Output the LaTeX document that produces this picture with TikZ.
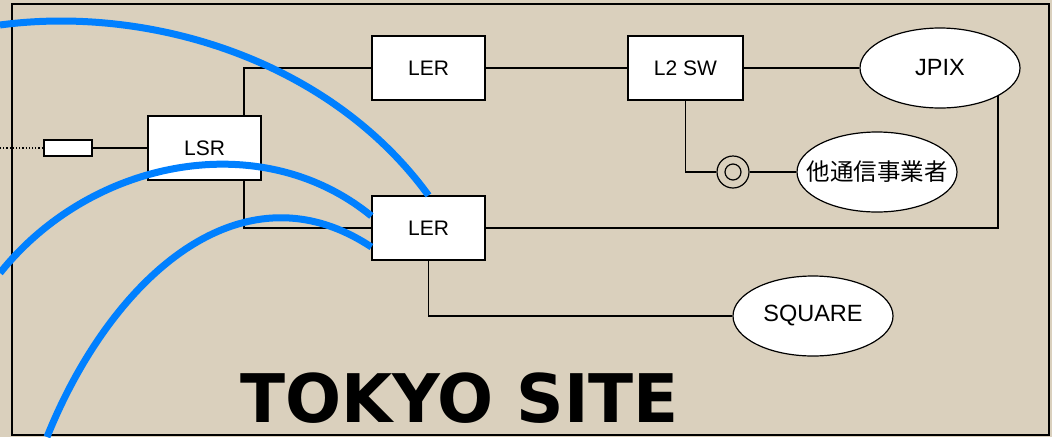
\documentclass[tikz,border=0pt]{standalone}
\usepackage{fontspec}
\setmainfont{Liberation Sans}
\newfontfamily\cjkfont{Noto Sans CJK JP}
\newfontfamily\titlefont{DejaVu Sans}
\usetikzlibrary{shapes.geometric}
\definecolor{bg}{RGB}{218,208,189}
\definecolor{fiberblue}{RGB}{0,128,255}
\begin{document}
\begin{tikzpicture}[x=1pt,y=-1pt,
  dev/.style={draw=black, line width=1.2pt, fill=white, rectangle, minimum width=113pt, minimum height=64pt, inner sep=0pt, font=\fontsize{21}{25}\selectfont},
  cloud/.style={draw=black, line width=1.2pt, fill=white, ellipse, minimum width=160pt, minimum height=80pt, inner sep=0pt, font=\fontsize{23.5}{27}\selectfont},
  wire/.style={draw=black, line width=1.2pt},
  fiber/.style={draw=fiberblue, line width=7pt}
]
\fill[bg] (0,0) rectangle (1052,437);
\useasboundingbox (0,0) rectangle (1052,437);
\draw[line width=1.5pt] (12,4) rectangle (1049,435);

\node[dev] (LSR) at (204.5,148) {LSR};
\node[dev] (LERt) at (428.5,68) {LER};
\node[dev, minimum width=115pt] (SW) at (685.5,68) {L2 SW};
\node[cloud] (JPIX) at (940,68) {\makebox[0pt]{JPIX}};
\node[circle, draw, line width=1.2pt, fill=bg, minimum size=32pt, inner sep=0pt] (jack) at (733,172) {};
\draw[wire] (jack.center) circle (8pt);
\node[cloud] (other) at (877,172) {\makebox[0pt]{\cjkfont 他通信事業者}};
\node[dev] (LERb) at (428.5,228) {LER};
\node[cloud] (SQ) at (813,316) {\makebox[0pt]{SQUARE}};
\node[draw, line width=1.2pt, fill=white, minimum width=48pt, minimum height=16pt, inner sep=0pt] (plug) at (68,148) {};
\coordinate (ext) at (0,148);

\draw[wire, dotted] (ext) -- (plug.west);
\draw[wire] (plug) -- (LSR);
\draw[wire] ([xshift=39.5pt]LSR.north) |- (LERt.west);
\draw[wire] ([xshift=39.5pt]LSR.south) |- (LERb.west);
\draw[wire] (LERt) -- (SW);
\draw[wire] (SW) -- (JPIX);
\draw[wire] (SW.south) |- (jack.west);
\draw[wire] (jack) -- (other);
\draw[wire] (JPIX.-26.2) |- (LERb.east);
\draw[wire] (LERb.south) |- (SQ.west);

\node[font=\titlefont\bfseries\fontsize{67}{67}\selectfont, anchor=base west, inner sep=0pt] (title) at (240,422) {\scalebox{0.985}[1]{TOKYO SITE}};

\coordinate (c1) at (0,25);
\coordinate (c2) at (0,273);
\coordinate (c3) at (47,437);
\draw[fiber] (c1) .. controls (150,5) and (330,60) .. (LERb.north);
\draw[fiber] (c2) .. controls (90,160) and (260,125) .. ([yshift=12pt]LERb.west);
\draw[fiber] (c3) .. controls (110,280) and (240,160) .. ([yshift=-19pt]LERb.west);
\end{tikzpicture}
\end{document}
